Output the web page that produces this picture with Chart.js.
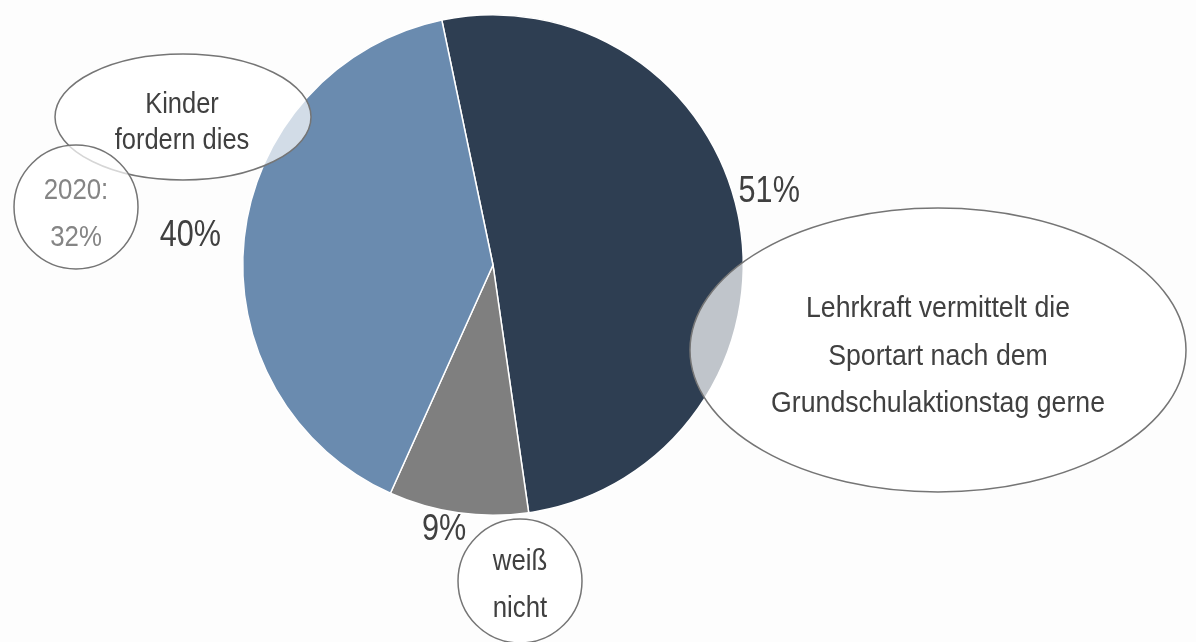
<!DOCTYPE html>
<html>
<head>
<meta charset="utf-8">
<script src="https://cdn.jsdelivr.net/npm/chart.js@4/dist/chart.umd.min.js"></script>
<style>
  body { margin: 0; background: #fdfdfd; }
  #wrap { width: 1196px; height: 642px; }
</style>
</head>
<body>
<div id="wrap"><canvas id="chart" width="1196" height="642"></canvas></div>
<script>
const categories = ['Lehrkraft vermittelt die Sportart nach dem Grundschulaktionstag gerne', 'weiß nicht', 'Kinder fordern dies'];
const values = [51, 9, 40];
const valueLabels = ['51%', '9%', '40%'];
const colors = ['#2e3e52', '#7f7f7f', '#6a8baf'];

const FONT = "'Liberation Sans', Arial, sans-serif";
const SQUEEZE = 0.85; // narrow look of the original font

// label placement relative to each slice: angle shift (deg) and distance beyond the rim
const labelShift = [-2.8, 2.1, -2.6];
const labelGap = [33, 29, 53];

// annotation bubbles (baseline of first line = by)
const bubbles = [
  { x: 183, y: 117, rx: 128, ry: 63, tx: 182, by: 113, sx: 0.85, lines: ['Kinder', 'fordern dies'], color: '#404040', lh: 36 },
  { x: 76, y: 207, rx: 62, ry: 62, tx: 76, by: 199, sx: 0.86, lines: ['2020:', '32%'], color: '#858585', lh: 47 },
  { x: 938, y: 350, rx: 248, ry: 142, tx: 938, by: 317, sx: 0.89, lines: ['Lehrkraft vermittelt die', 'Sportart nach dem', 'Grundschulaktionstag gerne'], color: '#404040', lh: 47.5 },
  { x: 520, y: 581, rx: 62, ry: 62, tx: 520, by: 570, sx: 0.86, lines: ['weiß', 'nicht'], color: '#404040', lh: 47 }
];

function narrowText(ctx, t, x, y, sx) {
  ctx.save();
  ctx.translate(x, y);
  ctx.scale(sx || SQUEEZE, 1);
  ctx.fillText(t, 0, 0);
  ctx.restore();
}

const overlay = {
  id: 'overlay',
  afterDraw(c) {
    const ctx = c.ctx;
    const arcs = c.getDatasetMeta(0).data;
    ctx.save();
    ctx.textAlign = 'center';
    ctx.textBaseline = 'alphabetic';
    // percent labels
    arcs.forEach((a, i) => {
      const mid = (a.startAngle + a.endAngle) / 2 + labelShift[i] * Math.PI / 180;
      const r = a.outerRadius + labelGap[i];
      ctx.fillStyle = '#404040';
      ctx.font = '36px ' + FONT;
      narrowText(ctx, valueLabels[i], a.x + Math.cos(mid) * r, a.y + Math.sin(mid) * r);
    });
    // bubbles
    bubbles.forEach(b => {
      ctx.beginPath();
      ctx.ellipse(b.x, b.y, b.rx, b.ry, 0, 0, Math.PI * 2);
      ctx.fillStyle = 'rgba(255,255,255,0.7)';
      ctx.fill();
      ctx.lineWidth = 1.5;
      ctx.strokeStyle = '#757575';
      ctx.stroke();
      ctx.fillStyle = b.color;
      ctx.font = '30px ' + FONT;
      b.lines.forEach((t, k) => narrowText(ctx, t, b.tx, b.by + k * b.lh, b.sx));
    });
    ctx.restore();
  }
};

new Chart(document.getElementById('chart'), {
  type: 'pie',
  data: {
    labels: categories,
    datasets: [{
      data: values,
      backgroundColor: colors,
      borderColor: '#ffffff',
      borderWidth: 1.5
    }]
  },
  options: {
    responsive: false,
    animation: false,
    rotation: -11.8,
    layout: { padding: { left: 0, right: 210, top: 14, bottom: 126 } },
    plugins: {
      legend: { display: false },
      tooltip: { enabled: false }
    }
  },
  plugins: [overlay]
});
</script>
</body>
</html>
